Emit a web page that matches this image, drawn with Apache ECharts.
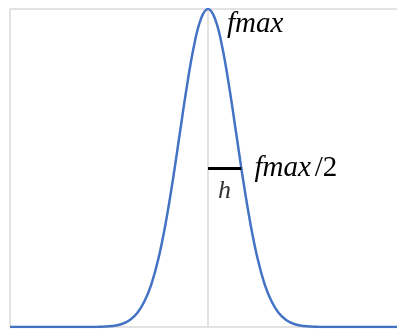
<!DOCTYPE html>
<html>
<head>
<meta charset="utf-8">
<script src="https://cdn.jsdelivr.net/npm/echarts@6/dist/echarts.min.js"></script>
<style>
  html, body { margin: 0; padding: 0; background: #fff; overflow: hidden; }
  #chart { width: 420px; height: 329px; }
</style>
</head>
<body>
<div id="chart"></div>
<script>
// Bell-shaped curve (normalised to its peak) with the half-height width marked.
const xValues = [-7, -4, -3.75, -3.5, -3.25, -3, -2.75, -2.5, -2.25, -2, -1.75, -1.5, -1.25, -1, -0.75, -0.5, -0.25,
                 0, 0.25, 0.5, 0.75, 1, 1.25, 1.5, 1.75, 2, 2.25, 2.5, 2.75, 3, 3.25, 3.5, 3.75, 4, 7];
const yValues = [0, 0, 0.001, 0.002, 0.005, 0.011, 0.023, 0.044, 0.080, 0.135, 0.216, 0.325, 0.458, 0.607, 0.755, 0.882, 0.969,
                 1, 0.969, 0.882, 0.755, 0.607, 0.458, 0.325, 0.216, 0.135, 0.080, 0.044, 0.023, 0.011, 0.005, 0.002, 0.001, 0, 0];

const xRange = [-7, 7];
const yRange = [0, 1];
const peak = [0, 1];          // f_max
const halfLevel = 0.5;        // f_max / 2
const halfWidth = [0, 1.18];  // segment h at half height

const peakLabel = '{i|fmax}';
const halfLabel = '{i|fmax}{n|/2}';
const widthLabel = 'h';

const points = xValues.map((x, i) => [x, yValues[i]]);

const chart = echarts.init(document.getElementById('chart'), null, { renderer: 'canvas' });

const serif = '"Liberation Serif", "DejaVu Serif", serif';
const richStyles = {
  i: { fontFamily: serif, fontStyle: 'italic', fontSize: 29, color: '#000' },
  n: { fontFamily: serif, fontStyle: 'normal', fontSize: 29, color: '#000', padding: [0, 0, 0, 4] }
};

chart.setOption({
  animation: false,
  backgroundColor: '#fff',
  grid: { left: 10, right: 14, top: 9, bottom: 2 },
  xAxis: {
    type: 'value',
    min: xRange[0], max: xRange[1], interval: 7,
    axisLine: { show: false }, axisTick: { show: false }, axisLabel: { show: false },
    splitLine: { show: true, lineStyle: { color: '#d9d9d9', width: 1.5 } }
  },
  yAxis: {
    type: 'value',
    min: yRange[0], max: yRange[1], interval: 1,
    axisLine: { show: false }, axisTick: { show: false }, axisLabel: { show: false },
    splitLine: { show: true, lineStyle: { color: '#d9d9d9', width: 1.5 } }
  },
  series: [
    {
      type: 'line',
      data: points,
      smooth: 0.4,
      showSymbol: false,
      symbol: 'none',
      lineStyle: { color: '#4472C4', width: 2.5 },
      z: 3,
      markLine: {
        silent: true,
        symbol: ['none', 'none'],
        label: { show: false },
        lineStyle: { color: '#000', width: 3, type: 'solid' },
        data: [[
          { coord: [halfWidth[0], halfLevel] },
          { coord: [halfWidth[1], halfLevel] }
        ]]
      },
      markPoint: {
        silent: true,
        symbol: 'circle',
        symbolSize: 0,
        data: [
          {
            coord: peak,
            label: {
              show: true, formatter: peakLabel, rich: richStyles,
              position: 'inside', align: 'left', verticalAlign: 'middle',
              offset: [19, 15.5]
            }
          },
          {
            coord: [halfWidth[1], halfLevel],
            label: {
              show: true, formatter: halfLabel, rich: richStyles,
              position: 'inside', align: 'left', verticalAlign: 'middle',
              offset: [13, 0.5]
            }
          },
          {
            coord: [halfWidth[0], halfLevel],
            label: {
              show: true, formatter: widthLabel,
              fontFamily: serif, fontStyle: 'italic', fontSize: 26, color: '#333',
              position: 'inside', align: 'left', verticalAlign: 'middle',
              offset: [10, 23]
            }
          }
        ]
      }
    }
  ]
});
</script>
</body>
</html>
